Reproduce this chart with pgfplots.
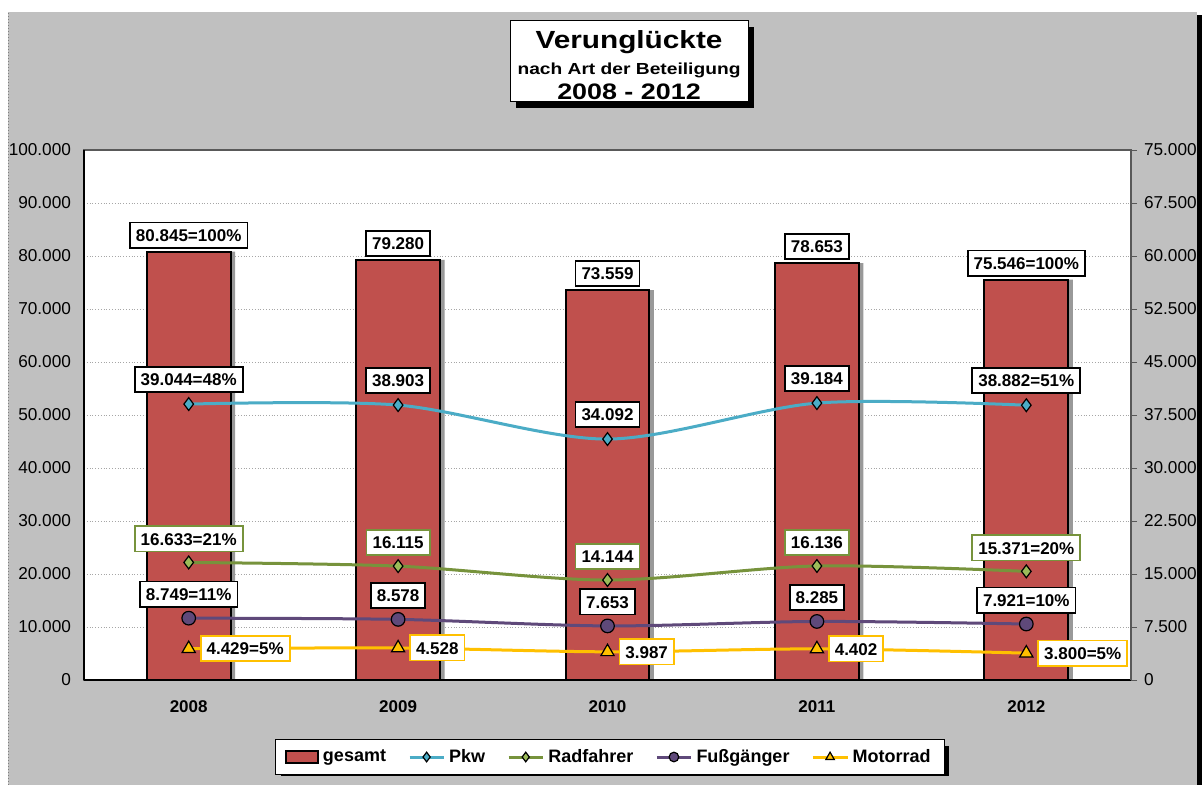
\documentclass[border=0pt]{standalone}
\usepackage{fontspec}
\setmainfont{Liberation Sans}
\newfontfamily\titlefont[FakeStretch=1.2]{Liberation Sans}
\usepackage{pgfplots}
\pgfplotsset{compat=1.18}
\definecolor{bgray}{HTML}{C0C0C0}
\definecolor{barred}{HTML}{C0504D}
\definecolor{pkw}{HTML}{4BACC6}
\definecolor{radline}{HTML}{77933C}
\definecolor{radfill}{HTML}{9BBB59}
\definecolor{fuss}{HTML}{5F497A}
\definecolor{moto}{HTML}{FFC000}
\tikzset{
  lbl/.style={fill=white, text=black, line width=0.9pt, inner xsep=3pt, inner ysep=3.2pt,
    text height=6.2pt, text depth=0pt, font=\bfseries\fontsize{8.5}{10}\selectfont},
}
\begin{document}
\begin{tikzpicture}
\useasboundingbox (0pt,0pt) rectangle (601pt,392.5pt);
\fill[white] (0pt,0pt) rectangle (601pt,392.5pt);
\fill[black] (598.5pt,0pt) rectangle (601pt,385pt);
\fill[bgray] (4pt,0pt) rectangle (598.5pt,386.5pt);
\draw[gray, densely dotted, line width=0.5pt] (4pt,0pt) -- (4pt,386.5pt);
% title
\fill[black] (258pt,338.5pt) rectangle (377pt,379pt);
\draw[black, fill=white, line width=0.5pt] (255pt,341.5pt) rectangle (374pt,382pt);
\node[anchor=base] at (314.5pt,368pt) {\titlefont\bfseries\fontsize{12.4}{14}\selectfont Verunglückte};
\node[anchor=base] at (314.5pt,355pt) {\titlefont\bfseries\fontsize{8}{9}\selectfont nach Art der Beteiligung};
\node[anchor=base] at (314.5pt,342.5pt) {\titlefont\bfseries\fontsize{11.2}{13}\selectfont 2008 - 2012};
% legend shadow
\fill[black] (140.5pt,4.5pt) rectangle (474.5pt,19.5pt);

\begin{axis}[
  at={(42pt,52.5pt)}, anchor=south west, scale only axis,
  width=523.5pt, height=265pt,
  xmin=-0.5, xmax=4.5, ymin=0, ymax=100000,
  xtick={0,1,2,3,4}, xticklabels={2008,2009,2010,2011,2012},
  major x tick style={draw=none},
  extra x ticks={-0.5,0.5,1.5,2.5,3.5,4.5}, extra x tick labels={},
  extra x tick style={tick align=outside, major tick length=3pt, tick style={black}},
  xticklabel style={font=\bfseries\fontsize{8.5}{10}\selectfont, yshift=-7pt},
  ytick={0,10000,...,100000},
  major y tick style={draw=none},
  yticklabel style={font=\fontsize{8.6}{10}\selectfont, xshift=-3pt,
    /pgf/number format/fixed, /pgf/number format/1000 sep={.}},
  /pgf/number format/assume math mode=true,
  scaled y ticks=false,
  ymajorgrids, grid style={densely dotted, gray!70},
  axis line style={gray!70!black, line width=0.6pt},
  axis background/.style={fill=white},
  clip=false,
]
\addplot[ybar, bar width=0.4, bar shift=0.022, fill=black!40, draw=none, forget plot]
  coordinates {(0,80845) (1,79280) (2,73559) (3,78653) (4,75546)};
\addplot[ybar, bar width=0.4, bar shift=0, fill=barred, draw=black, line width=1pt,
  nodes near coords, point meta=explicit symbolic,
  nodes near coords style={lbl, draw=black, anchor=south, yshift=1.5pt}]
  coordinates {(0,80845) [80.845=100\%] (1,79280) [79.280] (2,73559) [73.559]
               (3,78653) [78.653] (4,75546) [75.546=100\%]};
\draw[black, line width=0.8pt] (rel axis cs:0,0) -- (rel axis cs:1,0);
\draw[black, line width=0.6pt] (rel axis cs:0,0) -- (rel axis cs:0,1);
\end{axis}

\begin{axis}[
  at={(42pt,52.5pt)}, anchor=south west, scale only axis,
  width=523.5pt, height=265pt,
  xmin=-0.5, xmax=4.5, ymin=0, ymax=75000,
  axis y line*=right, axis x line=none,
  ytick={0,7500,...,75000},
  tick align=outside, major tick length=3pt, tick style={gray!70!black},
  yticklabel style={font=\fontsize{8.6}{10}\selectfont,
    /pgf/number format/fixed, /pgf/number format/1000 sep={.}},
  /pgf/number format/assume math mode=true,
  scaled y ticks=false,
  axis line style={gray!70!black, line width=0.6pt},
  clip=false,
  legend columns=5,
  legend style={at={(0.5024,-0.1453)}, anchor=center, draw=black, fill=white,
    line width=0.5pt, text=black,
    font=\bfseries\fontsize{9}{10}\selectfont, inner ysep=2.5pt, inner xsep=5pt,
    /tikz/every even column/.append style={column sep=9pt}},
  legend image post style={mark size=2.4pt},
  legend cell align=left,
]
\addlegendimage{legend image code/.code={\draw[fill=barred, draw=black, line width=0.8pt] (0pt,-3pt) rectangle (16pt,3pt);}}
\addlegendentry{gesamt}
\addplot[smooth, pkw, line width=1.5pt, mark=diamond*, mark size=3.2pt,
  mark options={fill=pkw, draw=black, line width=0.6pt},
  nodes near coords, point meta=explicit symbolic,
  nodes near coords style={lbl, draw=black, anchor=south, yshift=5.5pt}]
  coordinates {(0,39044) [39.044=48\%] (1,38903) [38.903] (2,34092) [34.092]
               (3,39184) [39.184] (4,38882) [38.882=51\%]};
\addlegendentry{Pkw}
\addplot[smooth, radline, line width=1.5pt, mark=diamond*, mark size=3.2pt,
  mark options={fill=radfill, draw=black, line width=0.6pt},
  nodes near coords, point meta=explicit symbolic,
  nodes near coords style={lbl, draw=radline, anchor=south, yshift=5pt}]
  coordinates {(0,16633) [16.633=21\%] (1,16115) [16.115] (2,14144) [14.144]
               (3,16136) [16.136] (4,15371) [15.371=20\%]};
\addlegendentry{Radfahrer}
\addplot[smooth, fuss, line width=1.5pt, mark=*, mark size=3.4pt,
  mark options={fill=fuss, draw=black, line width=0.6pt},
  nodes near coords, point meta=explicit symbolic,
  nodes near coords style={lbl, draw=black, anchor=south, yshift=5.25pt}]
  coordinates {(0,8749) [8.749=11\%] (1,8578) [8.578] (2,7653) [7.653]
               (3,8285) [8.285] (4,7921) [7.921=10\%]};
\addlegendentry{Fußgänger}
\addplot[smooth, moto, line width=1.5pt, mark=triangle*, mark size=3.8pt,
  mark options={fill=moto, draw=black, line width=0.6pt},
  nodes near coords, point meta=explicit symbolic,
  nodes near coords style={lbl, draw=moto, anchor=west, xshift=5.5pt}]
  coordinates {(0,4429) [4.429=5\%] (1,4528) [4.528] (2,3987) [3.987]
               (3,4402) [4.402] (4,3800) [3.800=5\%]};
\addlegendentry{Motorrad}
\end{axis}
\end{tikzpicture}
\end{document}
